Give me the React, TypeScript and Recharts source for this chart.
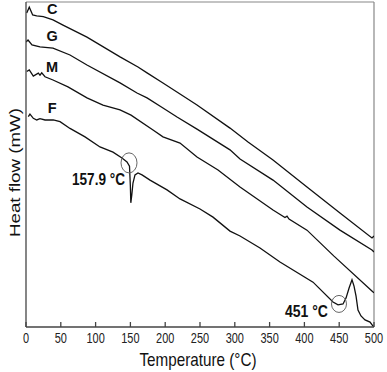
import React from "react";
import { LineChart, Line, XAxis, YAxis, ReferenceLine, ReferenceDot } from "recharts";

// Temperature (°C) / heat flow (arbitrary units, axis 0..10)
const curveC = [
  { t: 1.0, v: 9.66 }, { t: 4.7, v: 9.84 }, { t: 9.6, v: 9.6 }, { t: 15.4, v: 9.57 },
  { t: 24.9, v: 9.55 }, { t: 38.8, v: 9.45 }, { t: 53.2, v: 9.29 }, { t: 87.6, v: 8.92 },
  { t: 135.1, v: 8.31 }, { t: 160.9, v: 8.0 }, { t: 173.9, v: 7.82 }, { t: 196.8, v: 7.51 },
  { t: 221.3, v: 7.17 }, { t: 245.7, v: 6.83 }, { t: 293.1, v: 6.12 }, { t: 319.0, v: 5.69 },
  { t: 354.9, v: 5.14 }, { t: 403.7, v: 4.31 }, { t: 451.1, v: 3.51 }, { t: 497.1, v: 2.74 },
  { t: 500, v: 2.8 },
];

const curveG = [
  { t: 0, v: 8.77 }, { t: 2.9, v: 8.83 }, { t: 8.6, v: 8.68 }, { t: 20.1, v: 8.62 },
  { t: 38.8, v: 8.58 }, { t: 63.2, v: 8.37 }, { t: 87.6, v: 8.06 }, { t: 135.1, v: 7.51 },
  { t: 159.5, v: 7.2 }, { t: 173.9, v: 7.05 }, { t: 196.8, v: 6.74 }, { t: 217.0, v: 6.46 },
  { t: 245.7, v: 6.09 }, { t: 293.1, v: 5.45 }, { t: 307.5, v: 5.17 }, { t: 354.9, v: 4.52 },
  { t: 403.7, v: 3.69 }, { t: 451.1, v: 2.98 }, { t: 497.1, v: 2.37 }, { t: 500, v: 2.31 },
];

const curveM = [
  { t: 1.0, v: 7.86 }, { t: 4.7, v: 7.91 }, { t: 10.5, v: 7.72 }, { t: 17.7, v: 7.81 },
  { t: 20.1, v: 7.75 }, { t: 22.6, v: 7.82 }, { t: 27.3, v: 7.7 }, { t: 38.8, v: 7.6 },
  { t: 60.3, v: 7.39 }, { t: 87.6, v: 7.05 }, { t: 110.6, v: 6.83 }, { t: 135.1, v: 6.68 },
  { t: 150.9, v: 6.52 }, { t: 182.5, v: 6.06 }, { t: 196.8, v: 5.85 }, { t: 221.3, v: 5.66 },
  { t: 245.7, v: 5.23 }, { t: 275.9, v: 4.83 }, { t: 307.5, v: 4.31 }, { t: 354.9, v: 3.6 },
  { t: 372.1, v: 3.37 }, { t: 375.0, v: 3.41 }, { t: 377.9, v: 3.32 }, { t: 403.7, v: 2.98 },
  { t: 442.5, v: 2.18 }, { t: 498.6, v: 1.08 }, { t: 500, v: 1.05 },
];

const curveF = [
  { t: 3.3, v: 6.47 }, { t: 5.7, v: 6.55 }, { t: 10.5, v: 6.42 }, { t: 15.4, v: 6.37 },
  { t: 20.1, v: 6.41 }, { t: 27.3, v: 6.37 }, { t: 39.2, v: 6.37 }, { t: 48.9, v: 6.32 },
  { t: 63.2, v: 6.11 }, { t: 84.8, v: 5.85 }, { t: 106.3, v: 5.54 }, { t: 125.0, v: 5.38 },
  { t: 137.9, v: 5.2 }, { t: 145.1, v: 5.08 }, { t: 148.7, v: 4.95 }, { t: 149.9, v: 4.37 },
  { t: 150.6, v: 3.82 }, { t: 152.0, v: 4.06 }, { t: 153.7, v: 4.43 }, { t: 156.6, v: 4.68 },
  { t: 160.9, v: 4.74 }, { t: 166.7, v: 4.68 }, { t: 178.2, v: 4.52 }, { t: 202.6, v: 4.22 },
  { t: 221.3, v: 3.94 }, { t: 250.0, v: 3.63 }, { t: 268.7, v: 3.38 }, { t: 293.1, v: 2.95 },
  { t: 307.5, v: 2.8 }, { t: 336.2, v: 2.43 }, { t: 364.9, v: 2.0 }, { t: 412.4, v: 1.38 },
  { t: 441.1, v: 0.77 }, { t: 448.3, v: 0.68 }, { t: 455.5, v: 0.71 }, { t: 459.8, v: 0.89 },
  { t: 464.2, v: 1.2 }, { t: 468.4, v: 1.45 }, { t: 471.3, v: 1.26 }, { t: 474.2, v: 0.95 },
  { t: 477.0, v: 0.52 }, { t: 481.3, v: 0.34 }, { t: 487.1, v: 0.22 }, { t: 494.3, v: 0.15 },
  { t: 498.6, v: 0.03 }, { t: 500, v: 0 },
];

const xTicks = [0, 50, 100, 150, 200, 250, 300, 350, 400, 450, 500];
const yTicks = [0, 1, 2, 3, 4, 5, 6, 7, 8, 9, 10];

const seriesLabels = [
  { name: "C", t: 37.6, v: 9.8 },
  { name: "G", t: 37.6, v: 8.95 },
  { name: "M", t: 37.6, v: 8.01 },
  { name: "F", t: 37.6, v: 6.73 },
];

const peakNotes = [
  { text: "157.9 °C", t: 142.2, v: 4.37, len: 53 },
  { text: "451 °C", t: 433.9, v: 0.31, len: 43 },
];

const peakRings = [
  { t: 148.0, v: 5.05, rx: 8, ry: 10 },
  { t: 449.7, v: 0.71, rx: 7.5, ry: 8.5 },
];

const FONT = "'Liberation Sans', Arial, sans-serif";

const XTick = (props: any) => {
  const { x, y, payload } = props;
  const s = String(payload.value);
  return (
    <text
      x={x}
      y={y + 11}
      textAnchor="middle"
      fontFamily={FONT}
      fontSize={14}
      fill="#222"
      textLength={s.length * 6.1}
      lengthAdjust="spacingAndGlyphs"
    >
      {s}
    </text>
  );
};

export default function App() {
  return (
    <div style={{ position: "absolute", left: 0, top: 0, background: "#fff" }}>
      <LineChart
        width={387}
        height={372}
        margin={{ top: 2, right: 13, left: 0, bottom: 0 }}
      >
        <XAxis
          type="number"
          dataKey="t"
          domain={[0, 500]}
          ticks={xTicks}
          interval={0}
          height={45}
          stroke="#444"
          strokeWidth={1.3}
          tickSize={-5}
          tickMargin={10}
          tick={<XTick />}
          allowDataOverflow
          label={{
            content: () => (
              <text
                x={198}
                y={366}
                textAnchor="middle"
                fontFamily={FONT}
                fontSize={19}
                fill="#111"
                textLength={117}
                lengthAdjust="spacingAndGlyphs"
              >
                Temperature (°C)
              </text>
            ),
          }}
        />
        <YAxis
          type="number"
          domain={[0, 10]}
          ticks={yTicks}
          interval={0}
          width={26}
          stroke="#444"
          strokeWidth={1.3}
          tickSize={-5}
          tick={false}
          allowDataOverflow
          label={{
            content: () => (
              <text
                transform="translate(19.5,172.5) rotate(-90)"
                textAnchor="middle"
                fontFamily={FONT}
                fontSize={14}
                fill="#111"
                textLength={129}
                lengthAdjust="spacingAndGlyphs"
              >
                Heat flow (mW)
              </text>
            ),
          }}
        />
        <ReferenceLine y={10} stroke="#888" strokeWidth={1.2} />
        <ReferenceLine x={500} stroke="#888" strokeWidth={1.2} />
        <Line data={curveC} dataKey="v" type="linear" stroke="#111" strokeWidth={1.3} dot={false} isAnimationActive={false} />
        <Line data={curveG} dataKey="v" type="linear" stroke="#111" strokeWidth={1.3} dot={false} isAnimationActive={false} />
        <Line data={curveM} dataKey="v" type="linear" stroke="#111" strokeWidth={1.3} dot={false} isAnimationActive={false} />
        <Line data={curveF} dataKey="v" type="linear" stroke="#111" strokeWidth={1.3} dot={false} isAnimationActive={false} />
        {seriesLabels.map((l) => (
          <ReferenceDot
            key={l.name}
            x={l.t}
            y={l.v}
            r={0}
            shape={(p: any) => (
              <text
                x={p.cx}
                y={p.cy + 5}
                textAnchor="middle"
                fontFamily={FONT}
                fontWeight="bold"
                fontSize={14.5}
                fill="#111"
              >
                {l.name}
              </text>
            )}
          />
        ))}
        {peakRings.map((c, i) => (
          <ReferenceDot
            key={"ring" + i}
            x={c.t}
            y={c.v}
            r={0}
            shape={(p: any) => (
              <ellipse cx={p.cx} cy={p.cy} rx={c.rx} ry={c.ry} fill="none" stroke="#666" strokeWidth={1} />
            )}
          />
        ))}
        {peakNotes.map((n, i) => (
          <ReferenceDot
            key={"note" + i}
            x={n.t}
            y={n.v}
            r={0}
            shape={(p: any) => (
              <text
                x={p.cx}
                y={p.cy}
                textAnchor="end"
                fontFamily={FONT}
                fontWeight="bold"
                fontSize={17}
                fill="#111"
                textLength={n.len}
                lengthAdjust="spacingAndGlyphs"
              >
                {n.text}
              </text>
            )}
          />
        ))}
      </LineChart>
    </div>
  );
}
